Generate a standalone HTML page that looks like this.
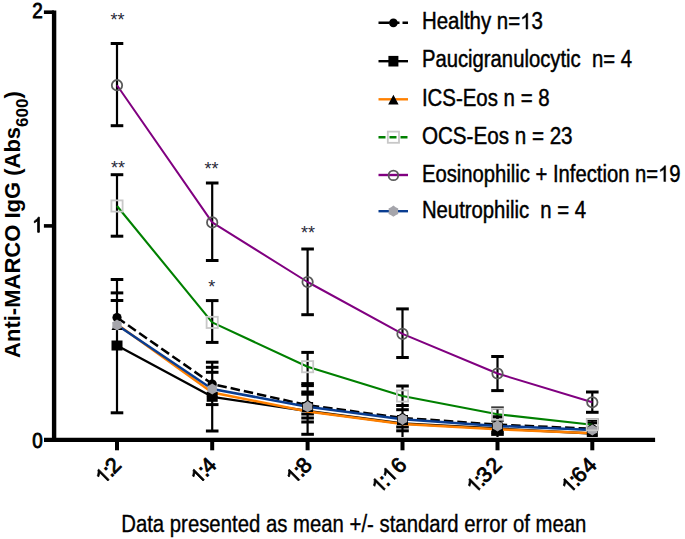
<!DOCTYPE html>
<html><head><meta charset="utf-8"><style>
html,body{margin:0;padding:0;background:#fff;}
svg{display:block;font-family:"Liberation Sans", sans-serif;}
</style></head><body>
<svg width="685" height="539" viewBox="0 0 685 539">
<rect width="685" height="539" fill="#fff"/>
<line x1="117" y1="279.5" x2="117" y2="412.8" stroke="#000" stroke-width="2.2"/>
<line x1="110.7" y1="279.5" x2="123.3" y2="279.5" stroke="#000" stroke-width="3.0"/>
<line x1="110.7" y1="292.9" x2="123.3" y2="292.9" stroke="#000" stroke-width="3.0"/>
<line x1="110.7" y1="300.5" x2="123.3" y2="300.5" stroke="#000" stroke-width="3.0"/>
<line x1="110.7" y1="412.8" x2="123.3" y2="412.8" stroke="#000" stroke-width="3.0"/>
<line x1="212.2" y1="362.2" x2="212.2" y2="431" stroke="#000" stroke-width="2.2"/>
<line x1="205.89999999999998" y1="362.2" x2="218.5" y2="362.2" stroke="#000" stroke-width="3.0"/>
<line x1="205.89999999999998" y1="367.3" x2="218.5" y2="367.3" stroke="#000" stroke-width="3.0"/>
<line x1="205.89999999999998" y1="372.3" x2="218.5" y2="372.3" stroke="#000" stroke-width="3.0"/>
<line x1="205.89999999999998" y1="404.6" x2="218.5" y2="404.6" stroke="#000" stroke-width="3.0"/>
<line x1="205.89999999999998" y1="431" x2="218.5" y2="431" stroke="#000" stroke-width="3.0"/>
<line x1="307.6" y1="383.5" x2="307.6" y2="434.3" stroke="#000" stroke-width="2.2"/>
<line x1="301.3" y1="385.6" x2="313.90000000000003" y2="385.6" stroke="#000" stroke-width="3.0"/>
<line x1="301.3" y1="392" x2="313.90000000000003" y2="392" stroke="#000" stroke-width="3.0"/>
<line x1="301.3" y1="394.2" x2="313.90000000000003" y2="394.2" stroke="#000" stroke-width="3.0"/>
<line x1="301.3" y1="414" x2="313.90000000000003" y2="414" stroke="#000" stroke-width="3.0"/>
<line x1="301.3" y1="418" x2="313.90000000000003" y2="418" stroke="#000" stroke-width="3.0"/>
<line x1="301.3" y1="422" x2="313.90000000000003" y2="422" stroke="#000" stroke-width="3.0"/>
<line x1="301.3" y1="434.3" x2="313.90000000000003" y2="434.3" stroke="#000" stroke-width="3.0"/>
<line x1="402.5" y1="405" x2="402.5" y2="437" stroke="#000" stroke-width="2.2"/>
<line x1="396.2" y1="409.7" x2="408.8" y2="409.7" stroke="#000" stroke-width="3.0"/>
<line x1="396.2" y1="427" x2="408.8" y2="427" stroke="#000" stroke-width="3.0"/>
<line x1="396.2" y1="430.8" x2="408.8" y2="430.8" stroke="#000" stroke-width="3.0"/>
<line x1="497.5" y1="416.3" x2="497.5" y2="437" stroke="#000" stroke-width="2.2"/>
<line x1="491.2" y1="416.7" x2="503.8" y2="416.7" stroke="#000" stroke-width="3.0"/>
<line x1="491.2" y1="432" x2="503.8" y2="432" stroke="#000" stroke-width="3.0"/>
<line x1="491.2" y1="434.4" x2="503.8" y2="434.4" stroke="#000" stroke-width="3.0"/>
<line x1="592.3" y1="422.8" x2="592.3" y2="437" stroke="#000" stroke-width="2.2"/>
<line x1="586.0" y1="422.8" x2="598.5999999999999" y2="422.8" stroke="#000" stroke-width="3.0"/>
<line x1="117" y1="174.7" x2="117" y2="236.2" stroke="#000" stroke-width="2.2"/><line x1="110.7" y1="174.7" x2="123.3" y2="174.7" stroke="#000" stroke-width="3.0"/><line x1="110.7" y1="236.2" x2="123.3" y2="236.2" stroke="#000" stroke-width="3.0"/>
<line x1="212.2" y1="300.6" x2="212.2" y2="342.4" stroke="#000" stroke-width="2.2"/><line x1="205.89999999999998" y1="300.6" x2="218.5" y2="300.6" stroke="#000" stroke-width="3.0"/><line x1="205.89999999999998" y1="342.4" x2="218.5" y2="342.4" stroke="#000" stroke-width="3.0"/>
<line x1="307.6" y1="352.4" x2="307.6" y2="383.6" stroke="#000" stroke-width="2.2"/><line x1="301.3" y1="352.4" x2="313.90000000000003" y2="352.4" stroke="#000" stroke-width="3.0"/><line x1="301.3" y1="383.6" x2="313.90000000000003" y2="383.6" stroke="#000" stroke-width="3.0"/>
<line x1="402.5" y1="386" x2="402.5" y2="405.5" stroke="#000" stroke-width="2.2"/><line x1="396.2" y1="386" x2="408.8" y2="386" stroke="#000" stroke-width="3.0"/><line x1="396.2" y1="405.5" x2="408.8" y2="405.5" stroke="#000" stroke-width="3.0"/>
<line x1="497.5" y1="408" x2="497.5" y2="420.2" stroke="#000" stroke-width="2.2"/><line x1="491.2" y1="408" x2="503.8" y2="408" stroke="#000" stroke-width="3.0"/><line x1="491.2" y1="420.2" x2="503.8" y2="420.2" stroke="#000" stroke-width="3.0"/>
<line x1="592.3" y1="420" x2="592.3" y2="428" stroke="#000" stroke-width="2.2"/><line x1="586.0" y1="420" x2="598.5999999999999" y2="420" stroke="#000" stroke-width="3.0"/><line x1="586.0" y1="428" x2="598.5999999999999" y2="428" stroke="#000" stroke-width="3.0"/>
<line x1="117" y1="43.5" x2="117" y2="125.7" stroke="#000" stroke-width="2.2"/><line x1="110.7" y1="43.5" x2="123.3" y2="43.5" stroke="#000" stroke-width="3.0"/><line x1="110.7" y1="125.7" x2="123.3" y2="125.7" stroke="#000" stroke-width="3.0"/>
<line x1="212.2" y1="183" x2="212.2" y2="260.5" stroke="#000" stroke-width="2.2"/><line x1="205.89999999999998" y1="183" x2="218.5" y2="183" stroke="#000" stroke-width="3.0"/><line x1="205.89999999999998" y1="260.5" x2="218.5" y2="260.5" stroke="#000" stroke-width="3.0"/>
<line x1="307.6" y1="249" x2="307.6" y2="314.7" stroke="#000" stroke-width="2.2"/><line x1="301.3" y1="249" x2="313.90000000000003" y2="249" stroke="#000" stroke-width="3.0"/><line x1="301.3" y1="314.7" x2="313.90000000000003" y2="314.7" stroke="#000" stroke-width="3.0"/>
<line x1="402.5" y1="308.9" x2="402.5" y2="357.5" stroke="#000" stroke-width="2.2"/><line x1="396.2" y1="308.9" x2="408.8" y2="308.9" stroke="#000" stroke-width="3.0"/><line x1="396.2" y1="357.5" x2="408.8" y2="357.5" stroke="#000" stroke-width="3.0"/>
<line x1="497.5" y1="356.5" x2="497.5" y2="390.6" stroke="#000" stroke-width="2.2"/><line x1="491.2" y1="356.5" x2="503.8" y2="356.5" stroke="#000" stroke-width="3.0"/><line x1="491.2" y1="390.6" x2="503.8" y2="390.6" stroke="#000" stroke-width="3.0"/>
<line x1="592.3" y1="392" x2="592.3" y2="412.3" stroke="#000" stroke-width="2.2"/><line x1="586.0" y1="392" x2="598.5999999999999" y2="392" stroke="#000" stroke-width="3.0"/><line x1="586.0" y1="412.3" x2="598.5999999999999" y2="412.3" stroke="#000" stroke-width="3.0"/>
<polyline points="117,345.5 212.2,396.8 307.6,411 402.5,423.5 497.5,428.5 592.3,433.5" fill="none" stroke="#000" stroke-width="2.3" stroke-linejoin="round"/>
<polyline points="117,324.2 212.2,392.5 307.6,411.5 402.5,424 497.5,429.2 592.3,433.2" fill="none" stroke="#ff8000" stroke-width="2.5" stroke-linejoin="round"/>
<polyline points="117,317.5 212.2,384 307.6,405.2 402.5,417.9 497.5,424.6 592.3,428.8" fill="none" stroke="#000" stroke-width="2.5" stroke-dasharray="9.5,4" stroke-linejoin="round"/>
<polyline points="117,325 212.2,389 307.6,406.7 402.5,419.3 497.5,425.9 592.3,430" fill="none" stroke="#0a3d91" stroke-width="2.5" stroke-linejoin="round"/>
<polyline points="117,206 212.2,322.4 307.6,366.7 402.5,396 497.5,414.2 592.3,424.7" fill="none" stroke="#008000" stroke-width="2.1" stroke-linejoin="round"/>
<polyline points="117,85.2 212.2,222.4 307.6,282 402.5,333.9 497.5,373.5 592.3,402.3" fill="none" stroke="#800080" stroke-width="2.0" stroke-linejoin="round"/>
<rect x="111.5" y="340.5" width="11" height="10" fill="#000"/>
<rect x="206.7" y="391.8" width="11" height="10" fill="#000"/>
<rect x="302.1" y="402" width="11" height="10" fill="#000"/>
<rect x="397.0" y="415" width="11" height="10" fill="#000"/>
<rect x="492.0" y="422.5" width="11" height="10" fill="#000"/>
<rect x="586.8" y="427" width="11" height="10" fill="#000"/>
<path d="M117,320.0 L122.5,330.0 L111.5,330.0 Z" fill="#000"/>
<path d="M212.2,387.0 L217.7,397.0 L206.7,397.0 Z" fill="#000"/>
<path d="M307.6,401.5 L313.1,411.5 L302.1,411.5 Z" fill="#000"/>
<path d="M402.5,414.5 L408.0,424.5 L397.0,424.5 Z" fill="#000"/>
<path d="M497.5,421.0 L503.0,431.0 L492.0,431.0 Z" fill="#000"/>
<path d="M592.3,425.5 L597.8,435.5 L586.8,435.5 Z" fill="#000"/>
<circle cx="117" cy="317.5" r="4.6" fill="#000"/>
<circle cx="212.2" cy="384" r="4.6" fill="#000"/>
<circle cx="307.6" cy="405.2" r="4.6" fill="#000"/>
<circle cx="402.5" cy="417.9" r="4.6" fill="#000"/>
<circle cx="497.5" cy="424.6" r="4.6" fill="#000"/>
<circle cx="592.3" cy="428.8" r="4.6" fill="#000"/>
<polygon points="117.00,319.40 119.30,321.02 121.85,322.20 121.60,325.00 121.85,327.80 119.30,328.98 117.00,330.60 114.70,328.98 112.15,327.80 112.40,325.00 112.15,322.20 114.70,321.02" fill="#a5a5ab"/>
<polygon points="212.20,383.40 214.50,385.02 217.05,386.20 216.80,389.00 217.05,391.80 214.50,392.98 212.20,394.60 209.90,392.98 207.35,391.80 207.60,389.00 207.35,386.20 209.90,385.02" fill="#a5a5ab"/>
<polygon points="307.60,401.10 309.90,402.72 312.45,403.90 312.20,406.70 312.45,409.50 309.90,410.68 307.60,412.30 305.30,410.68 302.75,409.50 303.00,406.70 302.75,403.90 305.30,402.72" fill="#a5a5ab"/>
<polygon points="402.50,413.70 404.80,415.32 407.35,416.50 407.10,419.30 407.35,422.10 404.80,423.28 402.50,424.90 400.20,423.28 397.65,422.10 397.90,419.30 397.65,416.50 400.20,415.32" fill="#a5a5ab"/>
<polygon points="497.50,420.30 499.80,421.92 502.35,423.10 502.10,425.90 502.35,428.70 499.80,429.88 497.50,431.50 495.20,429.88 492.65,428.70 492.90,425.90 492.65,423.10 495.20,421.92" fill="#a5a5ab"/>
<polygon points="592.30,424.40 594.60,426.02 597.15,427.20 596.90,430.00 597.15,432.80 594.60,433.98 592.30,435.60 590.00,433.98 587.45,432.80 587.70,430.00 587.45,427.20 590.00,426.02" fill="#a5a5ab"/>
<rect x="111.4" y="200.4" width="11.2" height="11.2" fill="none" stroke="#c8c8c8" stroke-width="1.8"/>
<rect x="206.6" y="316.79999999999995" width="11.2" height="11.2" fill="none" stroke="#c8c8c8" stroke-width="1.8"/>
<rect x="302.0" y="361.09999999999997" width="11.2" height="11.2" fill="none" stroke="#c8c8c8" stroke-width="1.8"/>
<rect x="396.9" y="390.4" width="11.2" height="11.2" fill="none" stroke="#c8c8c8" stroke-width="1.8"/>
<rect x="491.9" y="408.59999999999997" width="11.2" height="11.2" fill="none" stroke="#c8c8c8" stroke-width="1.8"/>
<rect x="586.6999999999999" y="419.09999999999997" width="11.2" height="11.2" fill="none" stroke="#c8c8c8" stroke-width="1.8"/>
<circle cx="117" cy="85.2" r="5.2" fill="none" stroke="#5a5a5a" stroke-width="1.8"/>
<circle cx="212.2" cy="222.4" r="5.2" fill="none" stroke="#5a5a5a" stroke-width="1.8"/>
<circle cx="307.6" cy="282" r="5.2" fill="none" stroke="#5a5a5a" stroke-width="1.8"/>
<circle cx="402.5" cy="333.9" r="5.2" fill="none" stroke="#5a5a5a" stroke-width="1.8"/>
<circle cx="497.5" cy="373.5" r="5.2" fill="none" stroke="#5a5a5a" stroke-width="1.8"/>
<circle cx="592.3" cy="402.3" r="5.2" fill="none" stroke="#5a5a5a" stroke-width="1.8"/>
<line x1="54.1" y1="10.6" x2="54.1" y2="442.1" stroke="#000" stroke-width="4.4"/>
<line x1="44" y1="439.9" x2="655.1" y2="439.9" stroke="#000" stroke-width="4.4"/>
<line x1="43.9" y1="12.2" x2="54" y2="12.2" stroke="#000" stroke-width="3.6"/>
<line x1="43.9" y1="225.9" x2="54" y2="225.9" stroke="#000" stroke-width="3.6"/>
<line x1="117" y1="441" x2="117" y2="450.3" stroke="#000" stroke-width="4"/>
<line x1="212.2" y1="441" x2="212.2" y2="450.3" stroke="#000" stroke-width="4"/>
<line x1="307.6" y1="441" x2="307.6" y2="450.3" stroke="#000" stroke-width="4"/>
<line x1="402.5" y1="441" x2="402.5" y2="450.3" stroke="#000" stroke-width="4"/>
<line x1="497.5" y1="441" x2="497.5" y2="450.3" stroke="#000" stroke-width="4"/>
<line x1="592.3" y1="441" x2="592.3" y2="450.3" stroke="#000" stroke-width="4"/>
<text x="32.300" y="18.4" font-size="22" fill="#000" stroke="#000" stroke-width="0.9" textLength="10.500" lengthAdjust="spacingAndGlyphs" xml:space="preserve">2</text>
<text x="32.300" y="232.3" font-size="22" fill="#000" stroke="#000" stroke-width="0.9" textLength="10.500" lengthAdjust="spacingAndGlyphs" xml:space="preserve"> </text><path transform="translate(32.300,232.3) scale(0.00922,-0.01074)" d="M763,0 L583,0 L583,1094.9342818428183 C540,1055.7953929539294 483,1016.6565040650406 413,977.5176151761517 C343,938.3787262872628 280,908.7859078590785 224,888.7391598915989 L224,1054.840785907859 C325,1099.7073170731708 413,1155.0745257452575 488,1219.9878048780488 C563,1284.9010840108401 616,1347.9051490514905 647,1409.0 L763,1409.0 Z" fill="#000" stroke="#000" stroke-width="0.9" vector-effect="non-scaling-stroke"/>
<text x="32.300" y="447.7" font-size="22" fill="#000" stroke="#000" stroke-width="0.9" textLength="10.500" lengthAdjust="spacingAndGlyphs" xml:space="preserve">0</text>
<g transform="translate(123,465.8) rotate(-45)"><path transform="translate(-27.579,0) scale(0.01050,-0.01050)" d="M763,0 L583,0 L583,1094.9342818428183 C540,1055.7953929539294 483,1016.6565040650406 413,977.5176151761517 C343,938.3787262872628 280,908.7859078590785 224,888.7391598915989 L224,1054.840785907859 C325,1099.7073170731708 413,1155.0745257452575 488,1219.9878048780488 C563,1284.9010840108401 616,1347.9051490514905 647,1409.0 L763,1409.0 Z" fill="#000" stroke="#000" stroke-width="0.8" vector-effect="non-scaling-stroke"/><text x="-14.10" y="0" text-anchor="middle" font-size="21.5" stroke="#000" stroke-width="0.8">:</text><text x="-6.60" y="0" text-anchor="middle" font-size="21.5" stroke="#000" stroke-width="0.8">2</text></g>
<g transform="translate(218.2,465.8) rotate(-45)"><path transform="translate(-27.579,0) scale(0.01050,-0.01050)" d="M763,0 L583,0 L583,1094.9342818428183 C540,1055.7953929539294 483,1016.6565040650406 413,977.5176151761517 C343,938.3787262872628 280,908.7859078590785 224,888.7391598915989 L224,1054.840785907859 C325,1099.7073170731708 413,1155.0745257452575 488,1219.9878048780488 C563,1284.9010840108401 616,1347.9051490514905 647,1409.0 L763,1409.0 Z" fill="#000" stroke="#000" stroke-width="0.8" vector-effect="non-scaling-stroke"/><text x="-14.10" y="0" text-anchor="middle" font-size="21.5" stroke="#000" stroke-width="0.8">:</text><text x="-6.60" y="0" text-anchor="middle" font-size="21.5" stroke="#000" stroke-width="0.8">4</text></g>
<g transform="translate(313.6,465.8) rotate(-45)"><path transform="translate(-27.579,0) scale(0.01050,-0.01050)" d="M763,0 L583,0 L583,1094.9342818428183 C540,1055.7953929539294 483,1016.6565040650406 413,977.5176151761517 C343,938.3787262872628 280,908.7859078590785 224,888.7391598915989 L224,1054.840785907859 C325,1099.7073170731708 413,1155.0745257452575 488,1219.9878048780488 C563,1284.9010840108401 616,1347.9051490514905 647,1409.0 L763,1409.0 Z" fill="#000" stroke="#000" stroke-width="0.8" vector-effect="non-scaling-stroke"/><text x="-14.10" y="0" text-anchor="middle" font-size="21.5" stroke="#000" stroke-width="0.8">:</text><text x="-6.60" y="0" text-anchor="middle" font-size="21.5" stroke="#000" stroke-width="0.8">8</text></g>
<g transform="translate(408.5,465.8) rotate(-45)"><path transform="translate(-40.779,0) scale(0.01050,-0.01050)" d="M763,0 L583,0 L583,1094.9342818428183 C540,1055.7953929539294 483,1016.6565040650406 413,977.5176151761517 C343,938.3787262872628 280,908.7859078590785 224,888.7391598915989 L224,1054.840785907859 C325,1099.7073170731708 413,1155.0745257452575 488,1219.9878048780488 C563,1284.9010840108401 616,1347.9051490514905 647,1409.0 L763,1409.0 Z" fill="#000" stroke="#000" stroke-width="0.8" vector-effect="non-scaling-stroke"/><text x="-27.30" y="0" text-anchor="middle" font-size="21.5" stroke="#000" stroke-width="0.8">:</text><path transform="translate(-25.779,0) scale(0.01050,-0.01050)" d="M763,0 L583,0 L583,1094.9342818428183 C540,1055.7953929539294 483,1016.6565040650406 413,977.5176151761517 C343,938.3787262872628 280,908.7859078590785 224,888.7391598915989 L224,1054.840785907859 C325,1099.7073170731708 413,1155.0745257452575 488,1219.9878048780488 C563,1284.9010840108401 616,1347.9051490514905 647,1409.0 L763,1409.0 Z" fill="#000" stroke="#000" stroke-width="0.8" vector-effect="non-scaling-stroke"/><text x="-6.60" y="0" text-anchor="middle" font-size="21.5" stroke="#000" stroke-width="0.8">6</text></g>
<g transform="translate(503.5,465.8) rotate(-45)"><path transform="translate(-40.779,0) scale(0.01050,-0.01050)" d="M763,0 L583,0 L583,1094.9342818428183 C540,1055.7953929539294 483,1016.6565040650406 413,977.5176151761517 C343,938.3787262872628 280,908.7859078590785 224,888.7391598915989 L224,1054.840785907859 C325,1099.7073170731708 413,1155.0745257452575 488,1219.9878048780488 C563,1284.9010840108401 616,1347.9051490514905 647,1409.0 L763,1409.0 Z" fill="#000" stroke="#000" stroke-width="0.8" vector-effect="non-scaling-stroke"/><text x="-27.30" y="0" text-anchor="middle" font-size="21.5" stroke="#000" stroke-width="0.8">:</text><text x="-19.80" y="0" text-anchor="middle" font-size="21.5" stroke="#000" stroke-width="0.8">3</text><text x="-6.60" y="0" text-anchor="middle" font-size="21.5" stroke="#000" stroke-width="0.8">2</text></g>
<g transform="translate(598.3,465.8) rotate(-45)"><path transform="translate(-40.779,0) scale(0.01050,-0.01050)" d="M763,0 L583,0 L583,1094.9342818428183 C540,1055.7953929539294 483,1016.6565040650406 413,977.5176151761517 C343,938.3787262872628 280,908.7859078590785 224,888.7391598915989 L224,1054.840785907859 C325,1099.7073170731708 413,1155.0745257452575 488,1219.9878048780488 C563,1284.9010840108401 616,1347.9051490514905 647,1409.0 L763,1409.0 Z" fill="#000" stroke="#000" stroke-width="0.8" vector-effect="non-scaling-stroke"/><text x="-27.30" y="0" text-anchor="middle" font-size="21.5" stroke="#000" stroke-width="0.8">:</text><text x="-19.80" y="0" text-anchor="middle" font-size="21.5" stroke="#000" stroke-width="0.8">6</text><text x="-6.60" y="0" text-anchor="middle" font-size="21.5" stroke="#000" stroke-width="0.8">4</text></g>
<text x="117.5" y="26.3" text-anchor="middle" font-size="18" fill="#2a2a3a">**</text>
<text x="117.9" y="174.2" text-anchor="middle" font-size="18" fill="#2a2a3a">**</text>
<text x="211.5" y="175" text-anchor="middle" font-size="18" fill="#2a2a3a">**</text>
<text x="308" y="238.5" text-anchor="middle" font-size="18" fill="#2a2a3a">**</text>
<text x="211.8" y="293.4" text-anchor="middle" font-size="18" fill="#2a2a3a">*</text>
<text transform="translate(19.8,357.9) rotate(-90)" font-weight="bold" font-size="22">Anti-MARCO IgG (Abs<tspan font-size="17" dy="8">600</tspan><tspan dy="-8">)</tspan></text>
<text x="121.2" y="532" font-size="23" stroke="#000" stroke-width="0.35" textLength="465.2" lengthAdjust="spacingAndGlyphs">Data presented as mean +/- standard error of mean</text>
<text x="421.900" y="29.1" font-size="23" fill="#000" stroke="#000" stroke-width="0.45" textLength="121.000" lengthAdjust="spacingAndGlyphs" xml:space="preserve">Healthy n= 3</text><path transform="translate(520.169,29.1) scale(0.00998,-0.01123)" d="M763,0 L583,0 L583,1094.9342818428183 C540,1055.7953929539294 483,1016.6565040650406 413,977.5176151761517 C343,938.3787262872628 280,908.7859078590785 224,888.7391598915989 L224,1054.840785907859 C325,1099.7073170731708 413,1155.0745257452575 488,1219.9878048780488 C563,1284.9010840108401 616,1347.9051490514905 647,1409.0 L763,1409.0 Z" fill="#000" stroke="#000" stroke-width="0.45" vector-effect="non-scaling-stroke"/>
<text x="421.900" y="67" font-size="23" fill="#000" stroke="#000" stroke-width="0.45" textLength="210.100" lengthAdjust="spacingAndGlyphs" xml:space="preserve">Paucigranulocytic  n= 4</text>
<text x="421.900" y="106" font-size="23" fill="#000" stroke="#000" stroke-width="0.45" textLength="127.700" lengthAdjust="spacingAndGlyphs" xml:space="preserve">ICS-Eos n = 8</text>
<text x="421.900" y="144" font-size="23" fill="#000" stroke="#000" stroke-width="0.45" textLength="150.700" lengthAdjust="spacingAndGlyphs" xml:space="preserve">OCS-Eos n = 23</text>
<text x="421.900" y="181.5" font-size="23" fill="#000" stroke="#000" stroke-width="0.45" textLength="258.700" lengthAdjust="spacingAndGlyphs" xml:space="preserve">Eosinophilic + Infection n= 9</text><path transform="translate(658.096,181.5) scale(0.00988,-0.01123)" d="M763,0 L583,0 L583,1094.9342818428183 C540,1055.7953929539294 483,1016.6565040650406 413,977.5176151761517 C343,938.3787262872628 280,908.7859078590785 224,888.7391598915989 L224,1054.840785907859 C325,1099.7073170731708 413,1155.0745257452575 488,1219.9878048780488 C563,1284.9010840108401 616,1347.9051490514905 647,1409.0 L763,1409.0 Z" fill="#000" stroke="#000" stroke-width="0.45" vector-effect="non-scaling-stroke"/>
<text x="421.900" y="217.6" font-size="23" fill="#000" stroke="#000" stroke-width="0.45" textLength="164.200" lengthAdjust="spacingAndGlyphs" xml:space="preserve">Neutrophilic  n = 4</text>
<line x1="378.5" y1="22.8" x2="408" y2="22.8" stroke="#000" stroke-width="2.4" stroke-dasharray="11,6,4,3"/>
<circle cx="393.4" cy="22.8" r="4.4" fill="#000"/>
<line x1="378.5" y1="61.2" x2="408" y2="61.2" stroke="#000" stroke-width="2.4"/>
<rect x="388.4" y="55.900000000000006" width="10" height="10.6" fill="#000"/>
<line x1="378.5" y1="99.3" x2="408" y2="99.3" stroke="#ff8000" stroke-width="2.4"/>
<path d="M393.4,94.8 L398.59999999999997,104.5 L388.2,104.5 Z" fill="#000"/>
<line x1="378.5" y1="137.2" x2="408" y2="137.2" stroke="#008000" stroke-width="2.4" stroke-dasharray="7,4"/>
<rect x="387.79999999999995" y="131.6" width="11.2" height="11.2" fill="none" stroke="#c8c8c8" stroke-width="1.8"/>
<line x1="378.5" y1="175" x2="408" y2="175" stroke="#800080" stroke-width="2.4"/>
<circle cx="393.4" cy="175.4" r="4.8" fill="none" stroke="#5a5a5a" stroke-width="1.8"/>
<line x1="378.5" y1="211.2" x2="408" y2="211.2" stroke="#0a3d91" stroke-width="2.4"/>
<polygon points="393.40,205.60 395.70,207.22 398.25,208.40 398.00,211.20 398.25,214.00 395.70,215.18 393.40,216.80 391.10,215.18 388.55,214.00 388.80,211.20 388.55,208.40 391.10,207.22" fill="#a5a5ab"/>
</svg>
</body></html>
